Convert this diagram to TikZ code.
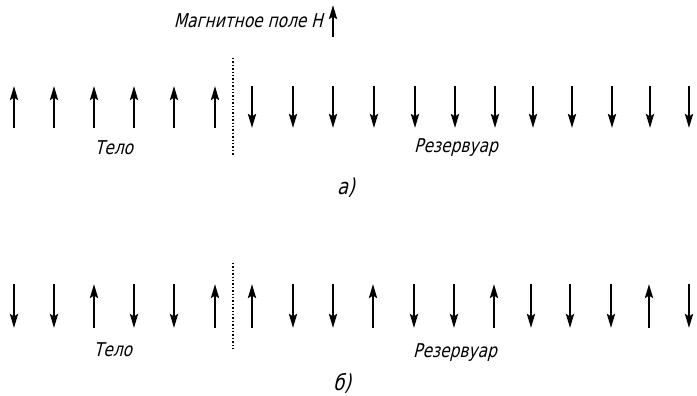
\documentclass[tikz,border=0pt]{standalone}
\usepackage{fontspec}
\usetikzlibrary{arrows.meta}
\newfontfamily\draftfont[FakeSlant=0.25,FakeStretch=0.81]{DejaVu Sans}
\begin{document}
\begin{tikzpicture}[x=1pt,y=-1pt,
  spin/.style={line width=2.6pt,-{Stealth[length=14pt,width=8pt,inset=2.5pt]}},
  lbl/.style={font=\draftfont\fontsize{19}{21}\selectfont, inner sep=0pt},
  caption/.style={font=\draftfont\fontsize{22}{24}\selectfont, inner sep=0pt},
  wall/.style={line width=2.2pt, dash pattern=on 1.4pt off 2pt}]
\useasboundingbox (0,0) rectangle (697,396);

% external field
\coordinate (hbot) at (333,37);
\coordinate (htop) at (333,5);
\draw[spin] (hbot) -- (htop);
\node[lbl, anchor=east] (field) at (323,21) {Магнитное поле H};

% (a): body spins all up, reservoir spins all down
\foreach \x [count=\k] in {14,54,94,134,174,215}{
  \coordinate (ab\k) at (\x,128); \coordinate (at\k) at (\x,86);
  \draw[spin] (ab\k) -- (at\k);
}
\foreach \x [count=\k] in {252,293,333,374,415,455,495,533,572,612,650,689}{
  \coordinate (rb\k) at (\x,128); \coordinate (rt\k) at (\x,86);
  \draw[spin] (rt\k) -- (rb\k);
}
\coordinate (wa1) at (233,58); \coordinate (wa2) at (233,156);
\draw[wall] (wa1) -- (wa2);
\node[lbl] (bodya) at (114,148) {Тело};
\node[lbl] (resa) at (456,148) {Резервуар};
\node[caption] (capa) at (346,188) {а)};

% (b): mixed spins; +1 = up, -1 = down
\foreach \x/\s [count=\k] in {14/-1,54/-1,94/1,134/-1,174/-1,215/1,
  252/1,293/-1,333/-1,373/1,414/-1,454/-1,494/1,531/-1,570/-1,611/-1,649/1,689/-1}{
  \coordinate (bb\k) at (\x,306+22*\s);
  \coordinate (bt\k) at (\x,306-22*\s);
  \draw[spin] (bb\k) -- (bt\k);
}
\coordinate (wb1) at (233,263); \coordinate (wb2) at (233,349);
\draw[wall] (wb1) -- (wb2);
\node[lbl] (bodyb) at (113,350) {Тело};
\node[lbl] (resb) at (455,353) {Резервуар};
\node[caption] (capb) at (342,383) {б)};
\end{tikzpicture}
\end{document}
